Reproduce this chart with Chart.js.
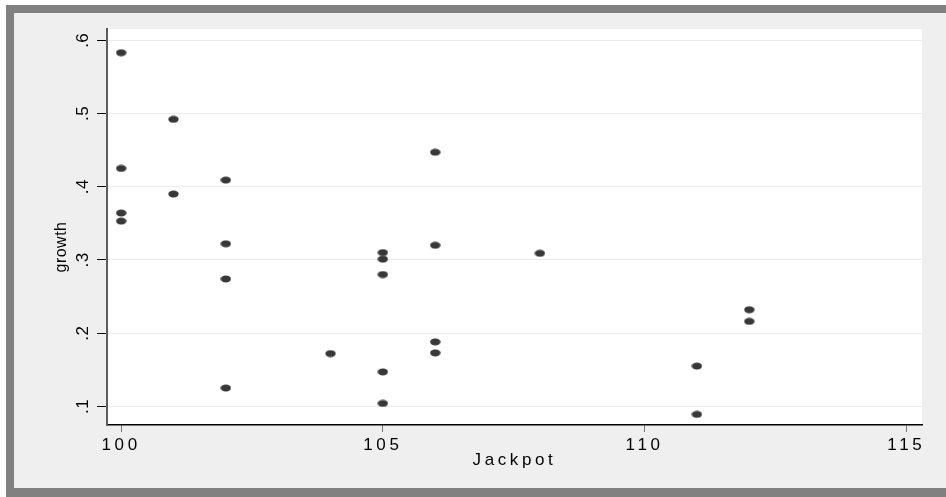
<!DOCTYPE html>
<html>
<head>
<meta charset="utf-8">
<script src="https://cdn.jsdelivr.net/npm/chart.js@4.4.0/dist/chart.umd.min.js"></script>
<style>
  html, body { margin: 0; padding: 0; background: #fff; }
  canvas { display: block; }
</style>
</head>
<body>
<canvas id="scatter" width="946" height="497"></canvas>
<script>
// data
const jackpot = [100, 100, 100, 100, 101, 101, 102, 102, 102, 102, 104, 105, 105, 105, 105, 105, 106, 106, 106, 106, 108, 111, 111, 112, 112];
const growth = [0.583, 0.425, 0.364, 0.353, 0.492, 0.390, 0.409, 0.322, 0.274, 0.125, 0.172, 0.310, 0.301, 0.280, 0.147, 0.104, 0.447, 0.320, 0.188, 0.173, 0.309, 0.155, 0.089, 0.232, 0.216];

const xTickValues = [100, 105, 110, 115];
const xTickLabels = ["100", "105", "110", "115"];
const yTickValues = [0.1, 0.2, 0.3, 0.4, 0.5, 0.6];
const yTickLabels = [".1", ".2", ".3", ".4", ".5", ".6"];

const xTitle = "Jackpot";
const yTitle = "growth";

const FONT = '"Liberation Sans", Arial, sans-serif';

// the dots are slightly wider than tall
function makeDot() {
  const c = document.createElement("canvas");
  c.width = 11;
  c.height = 8;
  const g = c.getContext("2d");
  g.fillStyle = "#383838";
  g.beginPath();
  g.ellipse(5.5, 4, 5.2, 3.4, 0, 0, Math.PI * 2);
  g.fill();
  return c;
}

// grey frame + light panel + white plot region
const framePlugin = {
  id: "frame",
  beforeDraw(chart) {
    const { ctx, width, height, chartArea: a } = chart;
    ctx.save();
    ctx.fillStyle = "#ffffff";
    ctx.fillRect(0, 0, width, height);
    ctx.fillStyle = "#808080";
    ctx.fillRect(6, 5, width - 6, height - 5);
    ctx.fillStyle = "#efefef";
    ctx.fillRect(14, 13, width - 14, height - 13 - 9);
    ctx.fillStyle = "#ffffff";
    ctx.fillRect(a.left, a.top, a.right - a.left, a.bottom - a.top);
    ctx.restore();
    // horizontal text in the reference is stretched wide
    ctx.letterSpacing = "3.6px";
  },
  afterDraw(chart) {
    const { ctx } = chart;
    const y = chart.scales.y;
    ctx.save();
    ctx.letterSpacing = "0.5px";
    ctx.fillStyle = "#000";
    ctx.textAlign = "center";
    ctx.textBaseline = "middle";
    ctx.font = "17px " + FONT;
    yTickValues.forEach((v, i) => {
      const py = y.getPixelForValue(v);
      ctx.save();
      ctx.translate(y.right - 24, py);
      ctx.rotate(-Math.PI / 2);
      ctx.fillText(yTickLabels[i], 0, 0);
      ctx.restore();
    });
    ctx.font = "16px " + FONT;
    ctx.translate(62, (y.top + y.bottom) / 2 + 20);
    ctx.rotate(-Math.PI / 2);
    ctx.fillText(yTitle, 0, 0);
    ctx.restore();
  }
};

const ctx = document.getElementById("scatter").getContext("2d");
new Chart(ctx, {
  type: "scatter",
  data: {
    datasets: [{
      data: jackpot.map((x, i) => ({ x: x, y: growth[i] })),
      pointStyle: makeDot(),
      pointRadius: 5
    }]
  },
  options: {
    responsive: false,
    animation: false,
    devicePixelRatio: 1,
    layout: { padding: { left: 0, top: 29, right: 24, bottom: 0 } },
    plugins: { legend: { display: false }, tooltip: { enabled: false } },
    scales: {
      x: {
        type: "linear",
        min: 99.73,
        max: 115.3,
        afterBuildTicks: (s) => { s.ticks = xTickValues.map(v => ({ value: v })); },
        afterFit: (s) => { s.height = 72; },
        ticks: {
          callback: (v) => xTickLabels[xTickValues.indexOf(v)],
          color: "#000",
          font: { family: FONT, size: 17 },
          padding: 3,
          autoSkip: false,
          maxRotation: 0
        },
        grid: { drawOnChartArea: false, tickLength: 7, color: "#777" },
        border: { display: true, color: "#000", width: 1.5 },
        title: {
          display: true,
          text: xTitle,
          color: "#000",
          font: { family: FONT, size: 17 },
          padding: { top: 0, bottom: 26 }
        }
      },
      y: {
        type: "linear",
        min: 0.0745,
        max: 0.6154,
        afterBuildTicks: (s) => { s.ticks = yTickValues.map(v => ({ value: v })); },
        afterFit: (s) => { s.width = 107; },
        ticks: { display: false },
        grid: { color: "#ebebeb", lineWidth: 1, tickLength: 10, tickColor: "#000" },
        border: { display: true, color: "#5c5c5c", width: 2 }
      }
    }
  },
  plugins: [framePlugin]
});
</script>
</body>
</html>
